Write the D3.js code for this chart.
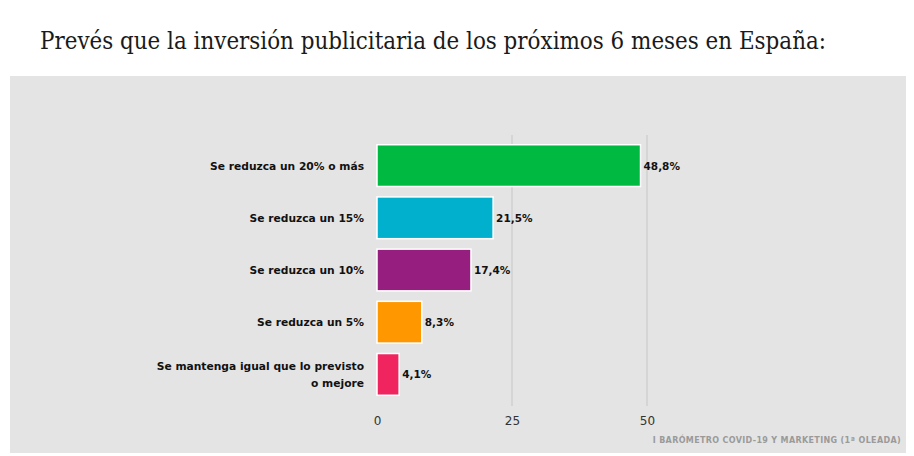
<!DOCTYPE html>
<html><head><meta charset="utf-8">
<script src="https://cdn.jsdelivr.net/npm/d3@7"></script>
<style>body{margin:0;background:#fff;}svg{display:block;}</style>
</head><body>
<script>
const title = "Prevés que la inversión publicitaria de los próximos 6 meses en España:";
const categories = [
  ["Se reduzca un 20% o más"],
  ["Se reduzca un 15%"],
  ["Se reduzca un 10%"],
  ["Se reduzca un 5%"],
  ["Se mantenga igual que lo previsto", "o mejore"]
];
const values = [48.8, 21.5, 17.4, 8.3, 4.1];
const valueLabels = ["48,8%", "21,5%", "17,4%", "8,3%", "4,1%"];
const colors = ["#00b940", "#00b0cc", "#951e7e", "#ff9800", "#f0245f"];
const tickValues = [0, 25, 50];
const sourceText = "I BARÓMETRO COVID-19 Y MARKETING (1ª OLEADA)";

const W = 914, H = 456;
const svg = d3.select("body").append("svg").attr("width", W).attr("height", H);

svg.append("text").attr("x", 40).attr("y", 49)
  .attr("font-family", "'DejaVu Serif Condensed', 'Liberation Serif', serif")
  .attr("font-size", 25).attr("fill", "#1a1a1a")
  .attr("textLength", 786).attr("lengthAdjust", "spacingAndGlyphs")
  .text(title);

svg.append("rect").attr("x", 10).attr("y", 76).attr("width", 896).attr("height", 377).attr("fill", "#e4e4e4");

const x = d3.scaleLinear().domain([0, 50]).range([377, 647]);
const y = d3.scaleBand().domain(d3.range(categories.length)).range([139.5, 400.5]).paddingInner(0.2).paddingOuter(0.1);

// gridlines
svg.append("g").selectAll("line").data(tickValues.filter(d => d > 0)).join("line")
  .attr("x1", d => x(d)).attr("x2", d => x(d)).attr("y1", 135).attr("y2", 406)
  .attr("stroke", "#c6c6c6").attr("stroke-width", 1);

// bars
svg.append("g").selectAll("rect").data(values).join("rect")
  .attr("x", x(0)).attr("y", (d, i) => y(i))
  .attr("width", d => x(d) - x(0)).attr("height", y.bandwidth())
  .attr("fill", (d, i) => colors[i]).attr("stroke", "#fff").attr("stroke-width", 1.5);

const labFont = "'DejaVu Sans', sans-serif";
// category labels
const cl = svg.append("g").selectAll("text").data(categories).join("text")
  .attr("x", 364).attr("text-anchor", "end")
  .attr("font-family", labFont).attr("font-weight", "bold").attr("font-size", 10.7).attr("fill", "#111")
  .attr("y", (d, i) => y(i) + y.bandwidth() / 2 + 4 - (d.length - 1) * 8.5);
cl.each(function(d) {
  d3.select(this).selectAll("tspan").data(d).join("tspan")
    .attr("x", 364).attr("dy", (t, j) => j === 0 ? 0 : 17).text(t => t);
});

// value labels
svg.append("g").selectAll("text").data(values).join("text")
  .attr("x", d => x(d) + 3).attr("y", (d, i) => y(i) + y.bandwidth() / 2 + 4)
  .attr("font-family", labFont).attr("font-weight", "bold").attr("font-size", 10.5).attr("fill", "#111")
  .text((d, i) => valueLabels[i]);

// axis
const ax = svg.append("g").attr("transform", "translate(0,406)")
  .call(d3.axisBottom(x).tickValues(tickValues).tickSize(0).tickPadding(10).tickFormat(d3.format("d")));
ax.select(".domain").remove();
ax.selectAll("text").attr("font-family", labFont).attr("font-size", 12).attr("fill", "#333");

svg.append("text").attr("x", 901).attr("y", 443).attr("text-anchor", "end")
  .attr("font-family", labFont).attr("font-weight", "bold").attr("font-size", 8).attr("fill", "#9a9a9a")
  .attr("letter-spacing", 0.35).text(sourceText);
</script>
</body></html>
